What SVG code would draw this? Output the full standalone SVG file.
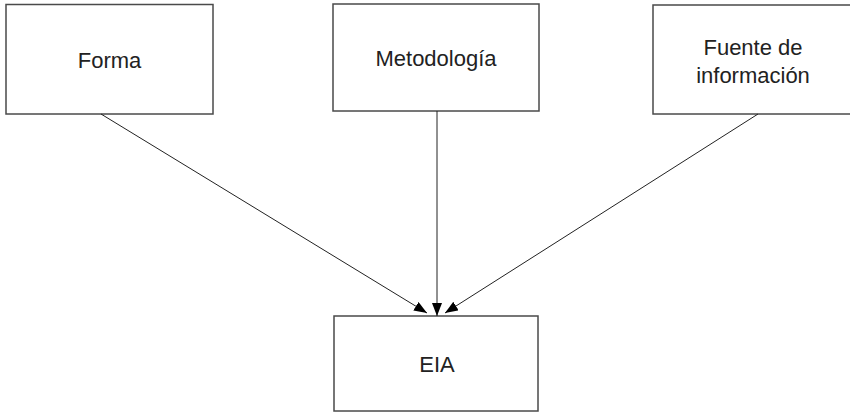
<svg xmlns="http://www.w3.org/2000/svg" width="850" height="412" viewBox="0 0 850 412">
<defs>
<marker id="arr" markerUnits="userSpaceOnUse" markerWidth="14" markerHeight="12" refX="13" refY="5" orient="auto">
<path d="M0,0 L13,5 L0,10 Z" fill="#000"/>
</marker>
<style>
.box{fill:#fff;stroke:#4a4a4a;stroke-width:1.5}
.lbl{font-family:"Liberation Sans",Arial,sans-serif;font-size:22px;fill:#222;text-anchor:middle}
.con{stroke:#222;stroke-width:1;fill:none;marker-end:url(#arr)}
</style>
</defs>
<rect width="850" height="412" fill="#fff"/>
<g id="forma">
<rect class="box" x="6" y="4.5" width="207" height="109.5"/>
<text class="lbl" x="109.5" y="68">Forma</text>
</g>
<g id="metodologia">
<rect class="box" x="333" y="4" width="206" height="107"/>
<text class="lbl" x="436" y="66">Metodología</text>
</g>
<g id="fuente">
<rect class="box" x="653" y="5" width="200" height="109"/>
<text class="lbl" x="753" y="55">Fuente de</text>
<text class="lbl" x="753" y="83">información</text>
</g>
<g id="eia">
<rect class="box" x="334" y="316" width="204" height="95"/>
<text class="lbl" x="437" y="372">EIA</text>
</g>
<g id="connectors">
<line class="con" x1="101" y1="114" x2="427" y2="313"/>
<line class="con" x1="437" y1="111" x2="437" y2="316"/>
<line class="con" x1="758" y1="114" x2="445" y2="313"/>
</g>
</svg>
